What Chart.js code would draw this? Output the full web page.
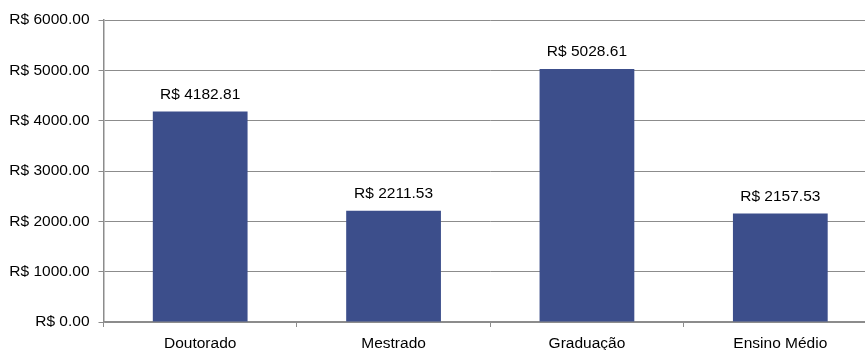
<!DOCTYPE html>
<html>
<head>
<meta charset="utf-8">
<script src="https://cdn.jsdelivr.net/npm/chart.js@4.4.0/dist/chart.umd.min.js"></script>
<style>
  html, body { margin: 0; padding: 0; background: #fff; overflow: hidden; }
  #wrap { width: 877px; height: 350px; }
</style>
</head>
<body>
<div id="wrap"><canvas id="c" width="877" height="350"></canvas></div>
<script>
// Average income by education level
const categories = ['Doutorado', 'Mestrado', 'Graduação', 'Ensino Médio'];
const values = [4182.81, 2211.53, 5028.61, 2157.53];
const yTicks = [0, 1000, 2000, 3000, 4000, 5000, 6000];

const FONT = "'Liberation Sans', Arial, sans-serif";
const GRID = '#8c8c8c';
const BAR = '#3C4E8B';

const money = v => 'R$ ' + v.toFixed(2);

const valueLabels = {
  id: 'valueLabels',
  afterDatasetsDraw(chart) {
    const ctx = chart.ctx;
    const meta = chart.getDatasetMeta(0);
    ctx.save();
    ctx.font = '15.5px ' + FONT;
    ctx.fillStyle = '#000';
    ctx.textAlign = 'center';
    ctx.textBaseline = 'alphabetic';
    meta.data.forEach((bar, i) => {
      ctx.fillText(money(values[i]), bar.x, bar.y - 12.5);
    });
    ctx.restore();
  }
};

new Chart(document.getElementById('c'), {
  type: 'bar',
  data: {
    labels: categories,
    datasets: [{
      data: values,
      backgroundColor: BAR,
      borderWidth: 0,
      barPercentage: 1,
      categoryPercentage: 0.49
    }]
  },
  options: {
    responsive: false,
    animation: false,
    devicePixelRatio: 1,
    layout: { padding: { top: 20, left: 0, right: 0, bottom: 0 } },
    plugins: { legend: { display: false }, tooltip: { enabled: false } },
    scales: {
      x: {
        grid: { drawOnChartArea: false, drawTicks: true, tickLength: 5, color: GRID, offset: true },
        border: { display: true, color: GRID, width: 1.5 },
        ticks: { color: '#000', font: { family: FONT, size: 15.5 }, padding: 7, maxRotation: 0 },
        afterFit: s => { s.height = 28; }
      },
      y: {
        min: 0,
        max: 6000,
        afterBuildTicks: s => { s.ticks = yTicks.map(v => ({ value: v })); },
        grid: { color: GRID, lineWidth: 1, drawTicks: true, tickLength: 5 },
        border: { display: true, color: GRID, width: 1.5 },
        ticks: { color: '#000', font: { family: FONT, size: 15.5 }, padding: 9, callback: v => money(v) },
        afterFit: s => { s.width = 103.5; }
      }
    }
  },
  plugins: [valueLabels]
});
</script>
</body>
</html>
